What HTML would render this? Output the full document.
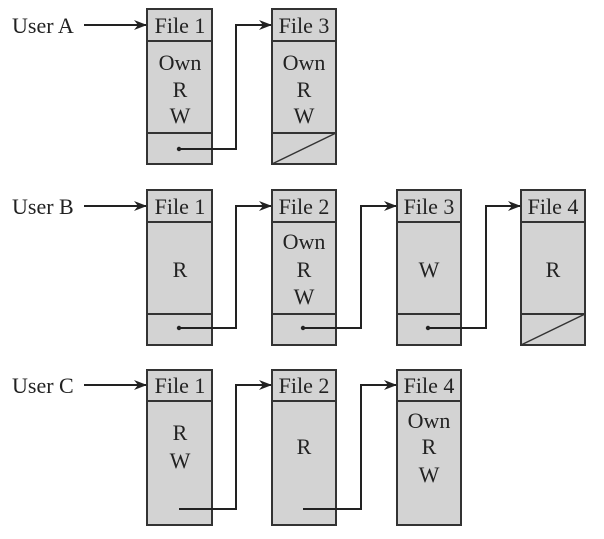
<!DOCTYPE html>
<html><head><style>body{margin:0;background:#fff}</style></head><body>
<svg width="604" height="534" xmlns="http://www.w3.org/2000/svg" font-family="Liberation Serif, serif" font-size="22" fill="#222">
<defs><marker id="a" markerWidth="13" markerHeight="10" refX="12" refY="5" orient="auto" markerUnits="userSpaceOnUse"><path d="M0,0 L13,5 L0,10 L4,5z" fill="#222"/></marker></defs>
<g stroke="#333" stroke-width="2" fill="#d3d3d3">
<rect x="147" y="9" width="65" height="155"/><line x1="147" y1="41" x2="212" y2="41"/><line x1="147" y1="133" x2="212" y2="133"/>
<rect x="272" y="9" width="64" height="155"/><line x1="272" y1="41" x2="336" y2="41"/><line x1="272" y1="133" x2="336" y2="133"/><line x1="272" y1="164" x2="336" y2="133" stroke-width="1.5"/>
<rect x="147" y="190" width="65" height="155"/><line x1="147" y1="222" x2="212" y2="222"/><line x1="147" y1="314" x2="212" y2="314"/>
<rect x="272" y="190" width="64" height="155"/><line x1="272" y1="222" x2="336" y2="222"/><line x1="272" y1="314" x2="336" y2="314"/>
<rect x="397" y="190" width="64" height="155"/><line x1="397" y1="222" x2="461" y2="222"/><line x1="397" y1="314" x2="461" y2="314"/>
<rect x="521" y="190" width="64" height="155"/><line x1="521" y1="222" x2="585" y2="222"/><line x1="521" y1="314" x2="585" y2="314"/><line x1="521" y1="345" x2="585" y2="314" stroke-width="1.5"/>
<rect x="147" y="370" width="65" height="155"/><line x1="147" y1="401" x2="212" y2="401"/>
<rect x="272" y="370" width="64" height="155"/><line x1="272" y1="401" x2="336" y2="401"/>
<rect x="397" y="370" width="64" height="155"/><line x1="397" y1="401" x2="461" y2="401"/>
</g>
<g stroke="#222" stroke-width="2" fill="none" marker-end="url(#a)">
<path d="M84,25 H146"/><path d="M179,149 H236 V25 H271"/>
<path d="M84,206 H146"/><path d="M179,328 H236 V206 H271"/><path d="M303,328 H361 V206 H396"/><path d="M428,328 H486 V206 H520"/>
<path d="M84,385 H146"/><path d="M179,509 H236 V385 H271"/><path d="M303,509 H361 V385 H396"/>
</g>
<g fill="#222"><circle cx="179" cy="149" r="2.2"/><circle cx="179" cy="328" r="2.2"/><circle cx="303" cy="328" r="2.2"/><circle cx="428" cy="328" r="2.2"/></g>
<text x="12" y="33">User A</text><text x="12" y="214">User B</text><text x="12" y="393">User C</text>
<g text-anchor="middle">
<text x="180" y="33">File 1</text><text x="304" y="33">File 3</text>
<text x="180" y="70">Own</text><text x="180" y="97">R</text><text x="180" y="123">W</text>
<text x="304" y="70">Own</text><text x="304" y="97">R</text><text x="304" y="123">W</text>
<text x="180" y="214">File 1</text><text x="304" y="214">File 2</text><text x="429" y="214">File 3</text><text x="553" y="214">File 4</text>
<text x="180" y="277">R</text><text x="304" y="249">Own</text><text x="304" y="277">R</text><text x="304" y="304">W</text>
<text x="429" y="277">W</text><text x="553" y="277">R</text>
<text x="180" y="393">File 1</text><text x="304" y="393">File 2</text><text x="429" y="393">File 4</text>
<text x="180" y="440">R</text><text x="180" y="468">W</text><text x="304" y="454">R</text>
<text x="429" y="428">Own</text><text x="429" y="454">R</text><text x="429" y="482">W</text>
</g>
</svg>
</body></html>
